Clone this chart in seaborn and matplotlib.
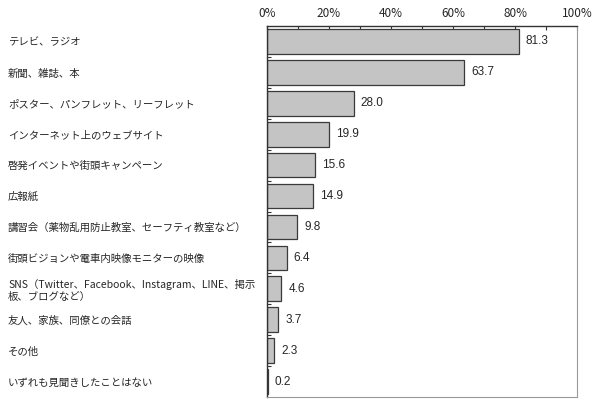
import matplotlib
matplotlib.use("Agg")
import matplotlib.pyplot as plt
import seaborn as sns
import numpy as np
import pandas as pd
from matplotlib.ticker import MultipleLocator, FixedLocator

sns.set_style("white")
plt.rcParams['font.family'] = ['Noto Sans CJK JP', 'DejaVu Sans']

categories = [
    "テレビ、ラジオ",
    "新聞、雑誌、本",
    "ポスター、パンフレット、リーフレット",
    "インターネット上のウェブサイト",
    "啓発イベントや街頭キャンペーン",
    "広報紙",
    "講習会（薬物乱用防止教室、セーフティ教室など）",
    "街頭ビジョンや電車内映像モニターの映像",
    "SNS（Twitter、Facebook、Instagram、LINE、掲示\n板、ブログなど）",
    "友人、家族、同僚との会話",
    "その他",
    "いずれも見聞きしたことはない",
]
values = [81.3, 63.7, 28.0, 19.9, 15.6, 14.9, 9.8, 6.4, 4.6, 3.7, 2.3, 0.2]
xticks = [0, 20, 40, 60, 80, 100]
xticklabels = ["0%", "20%", "40%", "60%", "80%", "100%"]

df = pd.DataFrame({"cat": categories, "val": values})

fig = plt.figure(figsize=(6, 4.05), dpi=100)
ax = fig.add_axes([267/600, 1-397/405, (577-267)/600, (397-26)/405])

sns.barplot(data=df, x="val", y="cat", orient="h", color="#c4c4c4",
            saturation=1, edgecolor="#3a3a3a", linewidth=0.9, width=0.8, ax=ax)

ax.set_xlim(0, 100)
ax.set_ylim(len(categories) - 0.5, -0.5)
ax.set_xlabel("")
ax.set_ylabel("")

ax.xaxis.tick_top()
ax.set_xticks(xticks)
ax.set_xticklabels(xticklabels, fontsize=8.5)
ax.xaxis.set_minor_locator(MultipleLocator(10))
ax.tick_params(axis="x", which="both", direction="in", length=3, width=0.8,
               color="#333333", top=True, bottom=False, pad=4)

ax.set_yticks(range(len(categories)))
ax.set_yticklabels(categories, fontsize=7.5, ha="left", linespacing=1.2)
ax.tick_params(axis="y", which="major", length=0, pad=259*72/100)
ax.yaxis.set_minor_locator(FixedLocator(np.arange(0.5, len(categories) - 1, 1.0)))
ax.tick_params(axis="y", which="minor", direction="in", length=3, width=0.8,
               color="#333333", left=True)
for lab in ax.get_yticklabels():
    lab.set_multialignment("left")

for s in ["left", "top"]:
    ax.spines[s].set_color("#333333")
    ax.spines[s].set_linewidth(1.0)
for s in ["right", "bottom"]:
    ax.spines[s].set_color("#999999")
    ax.spines[s].set_linewidth(0.8)

for i, v in enumerate(values):
    ax.annotate(f"{v:.1f}", xy=(v, i), xytext=(5, 0), textcoords="offset points",
                va="center", ha="left", fontsize=8.5,
                family=["Liberation Sans", "DejaVu Sans"])

fig.savefig("out.png", dpi=100)
